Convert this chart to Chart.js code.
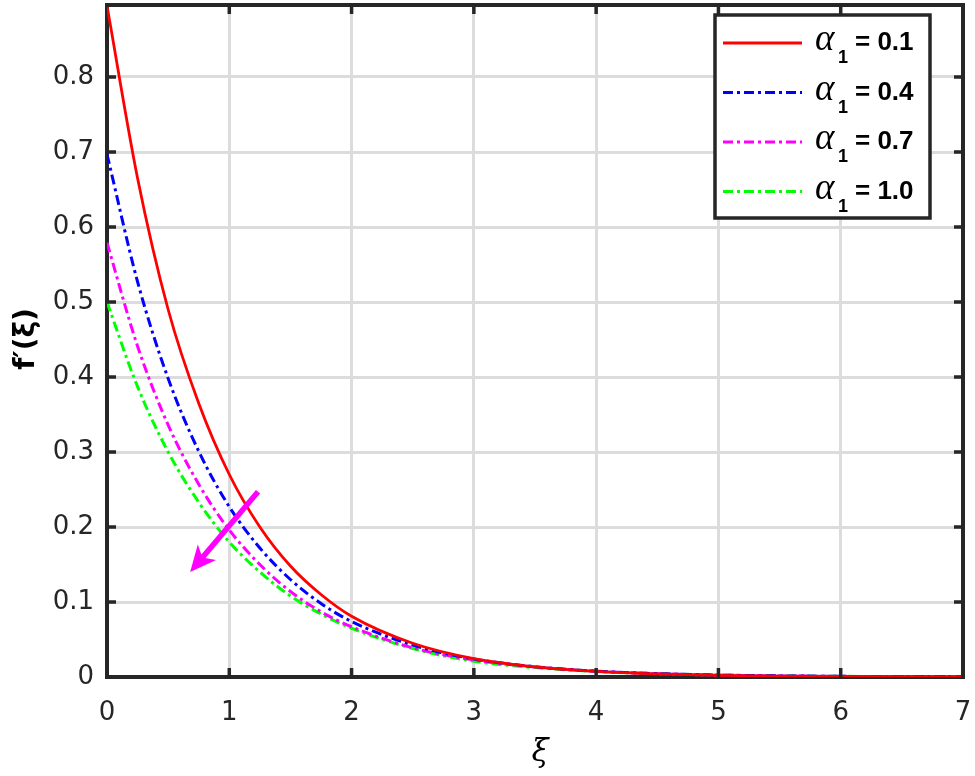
<!DOCTYPE html>
<html>
<head>
<meta charset="utf-8">
<script src="https://cdn.jsdelivr.net/npm/chart.js@4.4.1/dist/chart.umd.min.js"></script>
<style>
  html,body{margin:0;padding:0;background:#fff;}
  #wrap{width:975px;height:776px;position:relative;}
</style>
</head>
<body>
<div id="wrap"><canvas id="c" width="975" height="776"></canvas></div>
<script>
// ---- data ----
const xi = [0, 0.25, 0.5, 0.75, 1, 1.25, 1.5, 1.75, 2, 2.5, 3, 3.5, 4, 4.5, 5, 5.5, 6, 6.5, 7];
const f_a01 = [0.895, 0.665, 0.49, 0.365, 0.27, 0.20, 0.148, 0.11, 0.081, 0.045, 0.0245, 0.0135, 0.0075, 0.0041, 0.0022, 0.0012, 0.0007, 0.0004, 0.0002];
const f_a04 = [0.697, 0.527, 0.398, 0.301, 0.227, 0.172, 0.13, 0.098, 0.074, 0.0425, 0.024, 0.0137, 0.0078, 0.0045, 0.0026, 0.0015, 0.0009, 0.0005, 0.0003];
const f_a07 = [0.579, 0.441, 0.336, 0.257, 0.196, 0.15, 0.114, 0.087, 0.067, 0.039, 0.0227, 0.0132, 0.0077, 0.0045, 0.0026, 0.0015, 0.0009, 0.0005, 0.0003];
const f_a10 = [0.50, 0.387, 0.30, 0.233, 0.18, 0.14, 0.108, 0.084, 0.065, 0.038, 0.021, 0.0125, 0.0074, 0.0044, 0.0026, 0.0015, 0.0009, 0.0005, 0.0003];
const seriesLabels = ['0.1', '0.4', '0.7', '1.0'];
const xTicks = [0, 1, 2, 3, 4, 5, 6, 7];
const yTicks = [0, 0.1, 0.2, 0.3, 0.4, 0.5, 0.6, 0.7, 0.8];
const xRange = [0, 7];
const yRange = [0, 0.896];
const arrowFrom = [1.235, 0.247];
const arrowTo = [0.68, 0.14];

const seriesValues = [f_a01, f_a04, f_a07, f_a10];
const colors = ['#ff0000', '#0000ff', '#ff00ff', '#00ff00'];
const dashes = [[], [10, 4, 3, 4], [10, 4, 3, 4], [10, 4, 3, 4]];
const widths = [2.8, 3, 3, 3];

const datasets = seriesValues.map((vals, i) => ({
  label: seriesLabels[i],
  data: xi.map((x, j) => ({x: x, y: vals[j]})),
  borderColor: colors[i],
  backgroundColor: colors[i],
  borderWidth: widths[i],
  borderDash: dashes[i],
  pointRadius: 0,
  fill: false,
  cubicInterpolationMode: 'monotone'
}));

const AXIS = '#262626';
const SANS = '"DejaVu Sans", "Liberation Sans", Arial, sans-serif';
const ARIAL = '"Liberation Sans", Arial, sans-serif';

const decor = {
  id: 'decor',
  afterDraw(chart) {
    const ctx = chart.ctx;
    const a = chart.chartArea;
    const xs = chart.scales.x, ys = chart.scales.y;
    ctx.save();
    // box top/right
    ctx.strokeStyle = AXIS;
    ctx.lineWidth = 4;
    ctx.lineCap = 'square';
    ctx.beginPath();
    ctx.moveTo(a.left, a.top); ctx.lineTo(a.right, a.top); ctx.lineTo(a.right, a.bottom);
    ctx.stroke();
    // inward ticks
    ctx.lineCap = 'butt';
    ctx.lineWidth = 3.5;
    const tl = 9;
    ctx.beginPath();
    xTicks.forEach(v => {
      const p = xs.getPixelForValue(v);
      if (v > xRange[0] && v < xRange[1]) {
        ctx.moveTo(p, a.bottom); ctx.lineTo(p, a.bottom - tl);
        ctx.moveTo(p, a.top); ctx.lineTo(p, a.top + tl);
      }
    });
    yTicks.forEach(v => {
      const p = ys.getPixelForValue(v);
      if (v > yRange[0] && v < yRange[1]) {
        ctx.moveTo(a.left, p); ctx.lineTo(a.left + tl, p);
        ctx.moveTo(a.right, p); ctx.lineTo(a.right - tl, p);
      }
    });
    ctx.stroke();

    // arrow
    const x0 = xs.getPixelForValue(arrowFrom[0]), y0 = ys.getPixelForValue(arrowFrom[1]);
    const x1 = xs.getPixelForValue(arrowTo[0]), y1 = ys.getPixelForValue(arrowTo[1]);
    const ang = Math.atan2(y1 - y0, x1 - x0);
    const hl = 26, hw = 12, notch = 7;
    ctx.strokeStyle = '#ff00ff';
    ctx.fillStyle = '#ff00ff';
    ctx.lineWidth = 5.5;
    ctx.beginPath();
    ctx.moveTo(x0, y0);
    ctx.lineTo(x1 - Math.cos(ang) * (hl - notch), y1 - Math.sin(ang) * (hl - notch));
    ctx.stroke();
    const bx = x1 - Math.cos(ang) * hl, by = y1 - Math.sin(ang) * hl;
    const nx = -Math.sin(ang), ny = Math.cos(ang);
    ctx.beginPath();
    ctx.moveTo(x1, y1);
    ctx.lineTo(bx + nx * hw, by + ny * hw);
    ctx.lineTo(x1 - Math.cos(ang) * (hl - notch), y1 - Math.sin(ang) * (hl - notch));
    ctx.lineTo(bx - nx * hw, by - ny * hw);
    ctx.closePath();
    ctx.fill();

    // legend
    const lx = a.right - 248, ly = a.top + 10, lw = 215, lh = 203;
    ctx.fillStyle = '#ffffff';
    ctx.fillRect(lx, ly, lw, lh);
    ctx.strokeStyle = AXIS;
    ctx.lineWidth = 3.5;
    ctx.strokeRect(lx, ly, lw, lh);
    chart.data.datasets.forEach((ds, i) => {
      const yy = ly + 28 + i * 49.5;
      ctx.strokeStyle = ds.borderColor;
      ctx.lineWidth = ds.borderWidth;
      ctx.setLineDash(ds.borderDash);
      ctx.beginPath();
      ctx.moveTo(lx + 8, yy); ctx.lineTo(lx + 87, yy);
      ctx.stroke();
      ctx.setLineDash([]);
      ctx.fillStyle = '#000';
      ctx.textBaseline = 'alphabetic';
      ctx.textAlign = 'left';
      ctx.font = 'italic 37px "Liberation Serif", "DejaVu Serif", serif';
      ctx.fillText('α', lx + 100, yy + 7);
      ctx.font = 'bold 18px ' + ARIAL;
      ctx.fillText('1', lx + 123, yy + 20);
      ctx.font = 'bold 26px ' + ARIAL;
      ctx.fillText('= ' + ds.label, lx + 140, yy + 7);
    });

    // axis titles
    ctx.fillStyle = '#000';
    ctx.textAlign = 'center';
    ctx.textBaseline = 'middle';
    ctx.font = 'italic 31px "DejaVu Serif", "Liberation Serif", serif';
    ctx.fillText('ξ', (a.left + a.right) / 2 + 5, 753);
    ctx.save();
    ctx.translate(27, (a.top + a.bottom) / 2 - 2);
    ctx.rotate(-Math.PI / 2);
    ctx.font = 'bold 28px ' + SANS;
    ctx.fillText('f′(ξ)', 0, 0);
    ctx.restore();
    ctx.restore();
  }
};

function zeroPad(s) { s.paddingLeft = 0; s.paddingRight = 0; s.paddingTop = 0; s.paddingBottom = 0; }

new Chart(document.getElementById('c'), {
  type: 'line',
  data: { datasets: datasets },
  options: {
    responsive: false,
    animation: false,
    devicePixelRatio: 1,
    layout: { padding: { left: 0, right: 12, top: 5, bottom: 0 } },
    plugins: { legend: { display: false }, tooltip: { enabled: false } },
    scales: {
      x: {
        type: 'linear',
        min: xRange[0], max: xRange[1],
        afterBuildTicks: s => { s.ticks = xTicks.map(v => ({value: v})); },
        afterFit: s => { s.height = 99; zeroPad(s); },
        grid: { color: '#dcdcdc', lineWidth: 3, drawTicks: false },
        border: { display: true, color: AXIS, width: 4 },
        ticks: { color: AXIS, font: { family: SANS, size: 26 }, padding: 21, maxRotation: 0,
                 callback: v => String(v) }
      },
      y: {
        type: 'linear',
        min: yRange[0], max: yRange[1],
        afterBuildTicks: s => { s.ticks = yTicks.map(v => ({value: v})); },
        afterFit: s => { s.width = 107; zeroPad(s); },
        grid: { color: '#dcdcdc', lineWidth: 3, drawTicks: false },
        border: { display: true, color: AXIS, width: 4 },
        ticks: { color: AXIS, font: { family: SANS, size: 26 }, padding: 13,
                 callback: v => (Math.round(v * 10) / 10).toString() }
      }
    }
  },
  plugins: [decor]
});
</script>
</body>
</html>
